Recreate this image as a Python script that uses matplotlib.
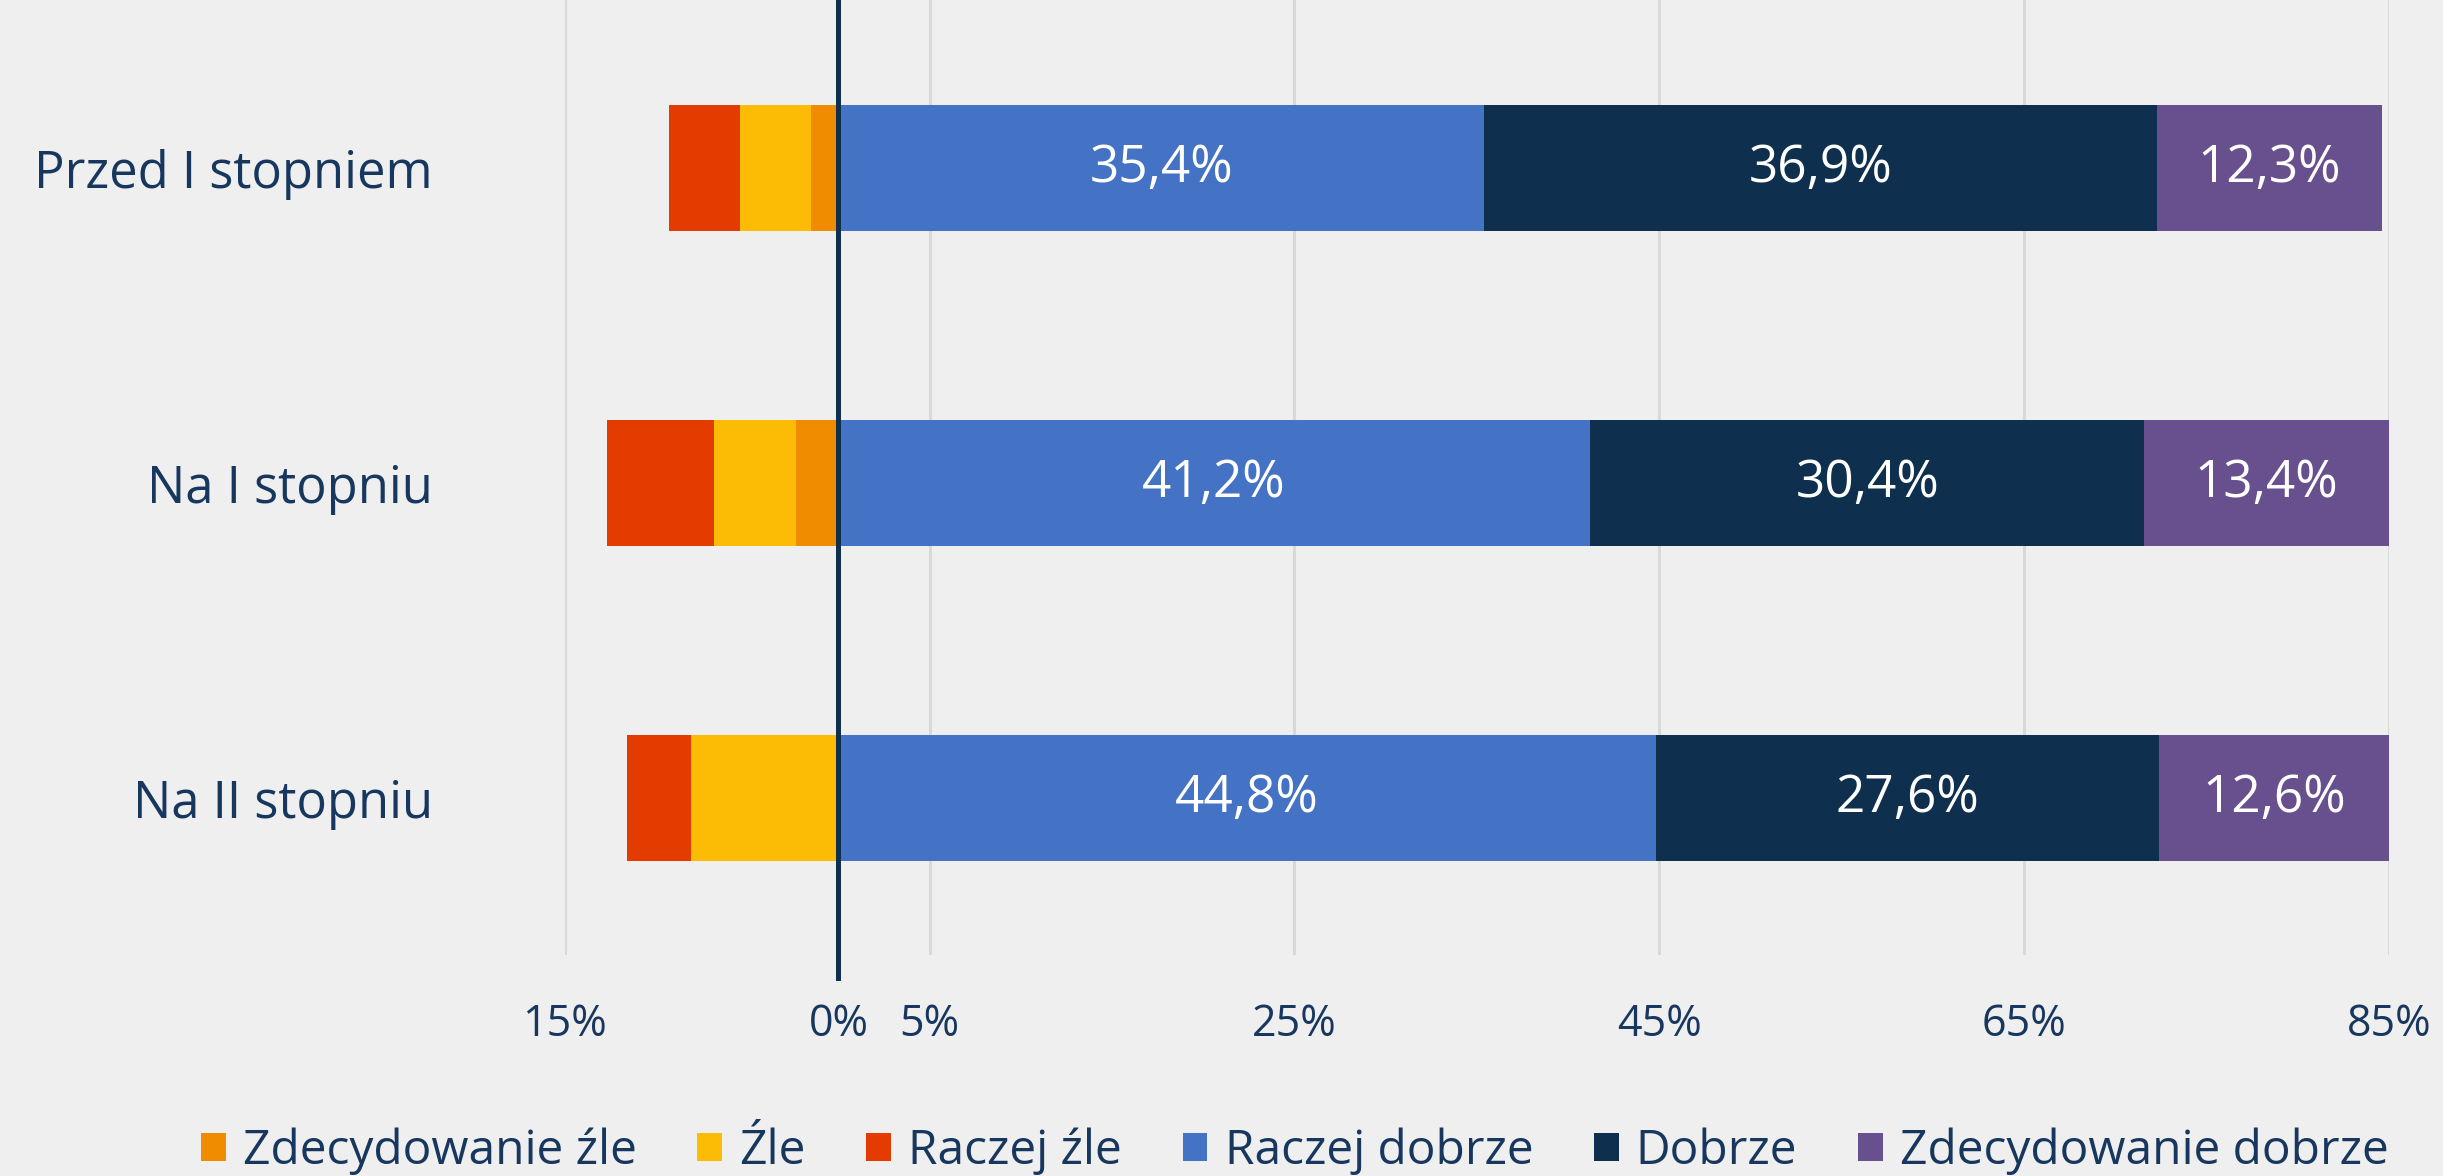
import matplotlib.pyplot as plt

# Dane
categories = ["Przed I stopniem", "Na I stopniu", "Na II stopniu"]
zdec_zle = [1.5, 2.3, 0.0]
zle = [3.9, 4.5, 8.1]
raczej_zle = [3.9, 5.9, 3.5]
raczej_dobrze = [35.4, 41.2, 44.8]
dobrze = [36.9, 30.4, 27.6]
zdec_dobrze = [12.3, 13.4, 12.6]

tick_pos = [-15, 0, 5, 25, 45, 65, 85]
tick_labels = ["15%", "0%", "5%", "25%", "45%", "65%", "85%"]

BG = "#EFEFEF"
TXT = "#17375E"
NAVY = "#0E2F4D"
colors = {
    "Zdecydowanie źle": "#F08C00",
    "Źle": "#FCBB05",
    "Raczej źle": "#E33B00",
    "Raczej dobrze": "#4472C4",
    "Dobrze": NAVY,
    "Zdecydowanie dobrze": "#68508F",
}

plt.rcParams["font.family"] = ["Open Sans", "DejaVu Sans"]

W, H = 2443, 1176
fig = plt.figure(figsize=(W / 100, H / 100), dpi=100, facecolor=BG)
ax = fig.add_axes([564.8 / W, 1 - 955 / H, 1824 / W, 955 / H], facecolor=BG)

y = list(range(len(categories)))
bh = 0.4

# strona negatywna (od zera w lewo)
left = [0.0] * len(y)
handles = {}
for name, vals in [("Zdecydowanie źle", zdec_zle), ("Źle", zle), ("Raczej źle", raczej_zle)]:
    left = [l - v for l, v in zip(left, vals)]
    handles[name] = ax.barh(y, vals, left=left, height=bh, color=colors[name], label=name)

# strona pozytywna
left = [0.0] * len(y)
for name, vals in [("Raczej dobrze", raczej_dobrze), ("Dobrze", dobrze), ("Zdecydowanie dobrze", zdec_dobrze)]:
    handles[name] = ax.barh(y, vals, left=left, height=bh, color=colors[name], label=name)
    for yi, l, v in zip(y, left, vals):
        ax.text(l + v / 2, yi, f"{v:.1f}%".replace(".", ","), ha="center", va="center",
                color="white", fontsize=37)
    left = [l + v for l, v in zip(left, vals)]

ax.axvline(0, ymin=-0.024, ymax=1, color=NAVY, lw=3.6, clip_on=False, zorder=5)

ax.set_xlim(-15, 85)
ax.set_ylim(2.498, -0.534)
ax.set_xticks(tick_pos)
ax.set_xticklabels(tick_labels)
ax.set_yticks(y)
ax.set_yticklabels(categories)
ax.tick_params(axis="x", length=0, pad=34, labelsize=31, labelcolor=TXT)
ax.tick_params(axis="y", length=0, pad=95, labelsize=36.5, labelcolor=TXT)
for lab in ax.get_yticklabels():
    lab.set_horizontalalignment("right")

ax.grid(axis="x", color="#D9D9D9", lw=2.2)
ax.set_axisbelow(True)
for s in ax.spines.values():
    s.set_visible(False)

order = ["Zdecydowanie źle", "Źle", "Raczej źle", "Raczej dobrze", "Dobrze", "Zdecydowanie dobrze"]
leg = fig.legend([handles[n] for n in order], order, loc="center",
                 bbox_to_anchor=(0.530, 1 - 1151 / H), ncol=6, frameon=False,
                 fontsize=34.5, handlelength=0.52, handleheight=0.52,
                 handletextpad=0.36, columnspacing=1.26)
for t in leg.get_texts():
    t.set_color(TXT)

fig.savefig("out.png", dpi=100, facecolor=BG)
